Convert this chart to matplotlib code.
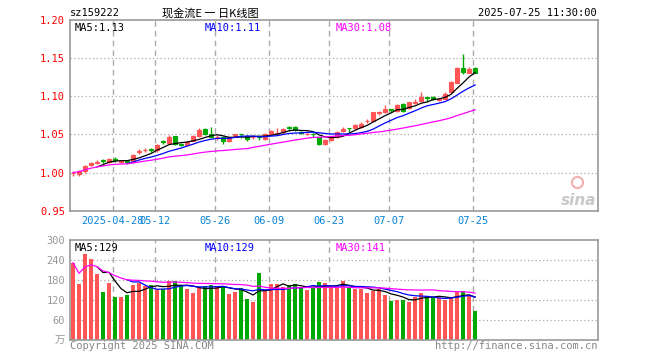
import numpy as np
import pandas as pd
import matplotlib
matplotlib.use('Agg')
from matplotlib import pyplot as plt

plt.rcParams['font.family'] = ['DejaVu Sans Mono', 'Noto Sans CJK SC']

# daily OHLC, 2025-04-17 .. 2025-07-25 (68 trading days)
opens = [0.999, 0.998, 1.002, 1.010, 1.013, 1.016, 1.014, 1.018, 1.014, 1.015,
         1.014, 1.027, 1.029, 1.031, 1.029, 1.041, 1.039, 1.048, 1.037, 1.036,
         1.042, 1.048, 1.057, 1.050, 1.046, 1.047, 1.041, 1.047, 1.051, 1.048,
         1.046, 1.048, 1.044, 1.051, 1.051, 1.053, 1.060, 1.060, 1.053, 1.050,
         1.051, 1.046, 1.038, 1.043, 1.046, 1.054, 1.059, 1.058, 1.060, 1.067,
         1.068, 1.078, 1.079, 1.083, 1.081, 1.090, 1.084, 1.091, 1.094, 1.099,
         1.099, 1.095, 1.097, 1.105, 1.118, 1.137, 1.131, 1.137]
highs = [1.002, 1.004, 1.010, 1.014, 1.017, 1.018, 1.019, 1.020, 1.017, 1.017,
         1.024, 1.031, 1.032, 1.032, 1.038, 1.043, 1.049, 1.048, 1.039, 1.042,
         1.049, 1.058, 1.058, 1.060, 1.049, 1.048, 1.047, 1.051, 1.051, 1.049,
         1.049, 1.048, 1.052, 1.056, 1.059, 1.058, 1.061, 1.061, 1.054, 1.053,
         1.052, 1.047, 1.044, 1.048, 1.055, 1.060, 1.059, 1.064, 1.066, 1.070,
         1.080, 1.081, 1.089, 1.083, 1.090, 1.091, 1.093, 1.096, 1.105, 1.099,
         1.100, 1.098, 1.105, 1.120, 1.138, 1.155, 1.138, 1.138]
lows = [0.996, 0.996, 0.999, 1.008, 1.011, 1.012, 1.012, 1.014, 1.012, 1.012,
        1.013, 1.024, 1.027, 1.027, 1.027, 1.038, 1.038, 1.036, 1.035, 1.035,
        1.041, 1.047, 1.049, 1.046, 1.043, 1.038, 1.040, 1.046, 1.045, 1.042,
        1.044, 1.043, 1.043, 1.050, 1.049, 1.051, 1.055, 1.055, 1.050, 1.049,
        1.047, 1.036, 1.036, 1.042, 1.045, 1.053, 1.053, 1.057, 1.059, 1.065,
        1.067, 1.076, 1.078, 1.079, 1.080, 1.079, 1.083, 1.090, 1.093, 1.092,
        1.095, 1.094, 1.096, 1.104, 1.117, 1.129, 1.130, 1.130]
closes = [1.000, 1.002, 1.009, 1.012, 1.014, 1.015, 1.018, 1.016, 1.015, 1.014,
          1.023, 1.028, 1.030, 1.030, 1.036, 1.040, 1.047, 1.037, 1.036, 1.040,
          1.048, 1.056, 1.050, 1.047, 1.047, 1.041, 1.046, 1.050, 1.050, 1.044,
          1.047, 1.047, 1.051, 1.055, 1.052, 1.057, 1.059, 1.056, 1.052, 1.051,
          1.050, 1.038, 1.043, 1.047, 1.053, 1.057, 1.058, 1.062, 1.064, 1.068,
          1.079, 1.079, 1.083, 1.082, 1.089, 1.081, 1.092, 1.093, 1.099, 1.098,
          1.096, 1.097, 1.103, 1.119, 1.137, 1.132, 1.136, 1.131]
# volume, 万
volumes = [232, 168, 258, 244, 198, 144, 171, 129, 129, 135,
           165, 172, 161, 165, 150, 152, 178, 178, 162, 152,
           140, 155, 162, 165, 158, 160, 138, 145, 155, 122,
           115, 200, 148, 168, 168, 158, 165, 168, 155, 150,
           155, 175, 172, 157, 157, 177, 157, 152, 152, 141,
           147, 152, 135, 117, 120, 120, 114, 130, 142, 132,
           126, 126, 120, 130, 146, 146, 136, 86]
tick_days = [7, 14, 24, 33, 43, 53, 67]
tick_labels = ['2025-04-28', '05-12', '05-26', '06-09', '06-23', '07-07', '07-25']
price_ticks = [0.95, 1.00, 1.05, 1.10, 1.15, 1.20]
vol_ticks = [0, 60, 120, 180, 240, 300]

RED = '#ff5555'
GREEN = '#00a800'
GRID = '#aaaaaa'

df = pd.DataFrame({'o': opens, 'h': highs, 'l': lows, 'c': closes, 'v': volumes})
x = np.arange(len(df))
up = df['c'] >= df['o']
colors = np.where(up, RED, GREEN)

def ma(s, n):
    return s.rolling(n).mean()

fig = plt.figure(figsize=(6.6, 3.6), dpi=100)
ax1 = fig.add_axes([70 / 660, 149.3 / 360, 527.5 / 660, 190.7 / 360])
ax2 = fig.add_axes([70 / 660, 20 / 360, 527.5 / 660, 100 / 360])

for ax in (ax1, ax2):
    ax.set_xlim(-0.5, 87.4)
    for s in ax.spines.values():
        s.set_color('#999999')
        s.set_linewidth(1.2)
    for d in tick_days:
        ax.axvline(d - 0.4, color=GRID, lw=1, ls=(0, (4, 3)), zorder=0)
    ax.tick_params(length=0)

# price panel
ax1.set_ylim(0.95, 1.20)
ax1.set_yticks(price_ticks)
ax1.set_yticklabels(['%.2f' % t for t in price_ticks], color='red', fontsize=7.5)
for t in price_ticks[1:-1]:
    ax1.axhline(t, color=GRID, lw=0.9, ls=(0, (1, 2)), zorder=0)
ax1.set_xticks([d - 0.4 for d in tick_days])
ax1.set_xticklabels(tick_labels, color='#0a84d6', fontsize=7.5)
ax1.tick_params(axis='x', pad=4)

ax1.vlines(x, df['l'], df['h'], colors=colors, lw=1, zorder=2)
body = (df['c'] - df['o']).abs()
ax1.bar(x, body, bottom=df[['o', 'c']].min(axis=1), width=0.75,
        color=colors, edgecolor=colors, lw=0.8, zorder=3)

ma5 = ma(df['c'], 5)
ma10 = ma(df['c'], 10)
ma30 = df['c'].rolling(30, min_periods=1).mean()
ax1.plot(x, ma5, color='black', lw=0.9, zorder=4)
ax1.plot(x, ma10, color='blue', lw=0.9, zorder=4)
ax1.plot(x, ma30, color='magenta', lw=0.9, zorder=4)

ax1.text(0.008, 0.985, 'MA5:%.2f' % ma5.iloc[-1], transform=ax1.transAxes,
         color='black', fontsize=7.5, va='top')
ax1.text(0.256, 0.985, 'MA10:%.2f' % ma10.iloc[-1], transform=ax1.transAxes,
         color='blue', fontsize=7.5, va='top')
ax1.text(0.503, 0.985, 'MA30:%.2f' % ma30.iloc[-1], transform=ax1.transAxes,
         color='magenta', fontsize=7.5, va='top')
# sina watermark
ax1.plot([0.962], [0.15], transform=ax1.transAxes, marker='o', ms=8,
         mfc='none', mec='#f4b0b0', mew=1.5)
ax1.text(0.998, 0.03, 'sina', transform=ax1.transAxes, color='#bbbbbb',
         fontsize=11, fontweight='bold', style='italic', ha='right',
         family='DejaVu Sans', alpha=0.8)

# volume panel
ax2.set_ylim(0, 300)
ax2.set_yticks(vol_ticks)
ax2.set_yticklabels(['万'] + [str(t) for t in vol_ticks[1:]], color='#999999',
                    fontsize=7.5)
for t in vol_ticks[1:-1]:
    ax2.axhline(t, color=GRID, lw=0.9, ls=(0, (1, 2)), zorder=0)
ax2.set_xticks([])
ax2.bar(x, df['v'], width=0.8, color=colors, zorder=2)
vma5 = ma(df['v'], 5)
vma10 = ma(df['v'], 10)
vma30 = df['v'].rolling(30, min_periods=1).mean()
ax2.plot(x, vma5, color='black', lw=0.9, zorder=4)
ax2.plot(x, vma10, color='blue', lw=0.9, zorder=4)
ax2.plot(x, vma30, color='magenta', lw=0.9, zorder=4)
ax2.text(0.008, 0.97, 'MA5:%d' % round(vma5.iloc[-1]), transform=ax2.transAxes,
         color='black', fontsize=7.5, va='top')
ax2.text(0.256, 0.97, 'MA10:%d' % round(vma10.iloc[-1]), transform=ax2.transAxes,
         color='blue', fontsize=7.5, va='top')
ax2.text(0.503, 0.97, 'MA30:%d' % round(vma30.iloc[-1]), transform=ax2.transAxes,
         color='magenta', fontsize=7.5, va='top')

# header and footer
fig.text(70 / 660, 1 - 13 / 360, 'sz159222', fontsize=7.5, va='center')
fig.text(210 / 660, 1 - 13 / 360, '现金流E 一 日K线图', fontsize=8, va='center',
         ha='center', family=['Noto Sans CJK SC', 'DejaVu Sans'])
fig.text(597 / 660, 1 - 13 / 360, '2025-07-25 11:30:00', fontsize=7.5,
         va='center', ha='right')
fig.text(70 / 660, 1 - 346 / 360, 'Copyright 2025 SINA.COM', fontsize=7.5,
         va='center', color='#888888')
fig.text(597 / 660, 1 - 346 / 360, 'http://finance.sina.com.cn', fontsize=7.5,
         va='center', ha='right', color='#888888')

fig.savefig('out.png', dpi=100, facecolor='white')
